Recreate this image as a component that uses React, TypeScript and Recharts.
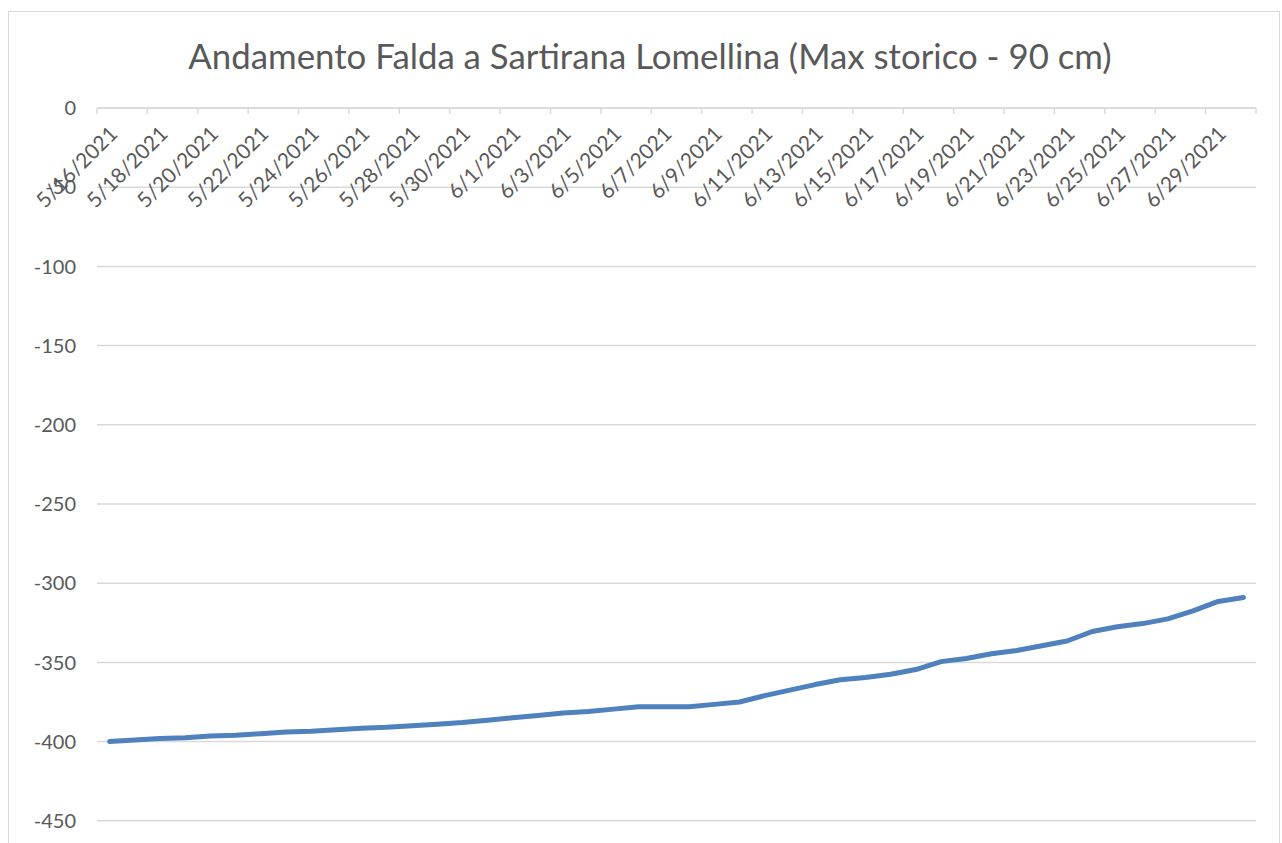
import React from 'react';
import { LineChart, Line, XAxis, YAxis, CartesianGrid } from 'recharts';

const DATES = [
  '5/16/2021', '5/17/2021', '5/18/2021', '5/19/2021', '5/20/2021', '5/21/2021',
  '5/22/2021', '5/23/2021', '5/24/2021', '5/25/2021', '5/26/2021', '5/27/2021',
  '5/28/2021', '5/29/2021', '5/30/2021', '5/31/2021', '6/1/2021', '6/2/2021',
  '6/3/2021', '6/4/2021', '6/5/2021', '6/6/2021', '6/7/2021', '6/8/2021',
  '6/9/2021', '6/10/2021', '6/11/2021', '6/12/2021', '6/13/2021', '6/14/2021',
  '6/15/2021', '6/16/2021', '6/17/2021', '6/18/2021', '6/19/2021', '6/20/2021',
  '6/21/2021', '6/22/2021', '6/23/2021', '6/24/2021', '6/25/2021', '6/26/2021',
  '6/27/2021', '6/28/2021', '6/29/2021', '6/30/2021',
];

// livello falda (cm)
const LEVELS = [
  -400, -399, -398, -397.5, -396.5, -396, -395, -394, -393.5, -392.5, -391.5, -391,
  -390, -389, -388, -386.5, -385, -383.5, -382, -381, -379.5, -378, -378, -378,
  -376.5, -375, -371, -367.5, -364, -361, -359.5, -357.5, -354.5, -349.5, -347.5, -344.5,
  -342.5, -339.5, -336.5, -330.5, -327.5, -325.5, -322.5, -317.5, -311.5, -309,
];

const Y_TICKS = [0, -50, -100, -150, -200, -250, -300, -350, -400, -450];

const TITLE = 'Andamento Falda a Sartirana Lomellina (Max storico - 90 cm)';

const FONT = 'Lato, "Open Sans", sans-serif';
const TEXT_COLOR = '#595959';
const GRID_COLOR = '#d9d9d9';

const data = DATES.map((date, idx) => ({ idx, date, level: LEVELS[idx] }));

// tick marks sit between categories every 2 days, labels on every other category
const xTicks: number[] = [];
for (let i = 0; i < DATES.length; i += 2) {
  xTicks.push(i - 0.5, i);
}
xTicks.push(DATES.length - 0.5);

const DateTick = (props: any) => {
  const { x, y, payload } = props;
  const v = Number(payload.value);
  if (!Number.isInteger(v)) {
    return <line x1={x} y1={y} x2={x} y2={y + 6} stroke={GRID_COLOR} strokeWidth={1.5} />;
  }
  return (
    <g transform={`translate(${x + 4}, ${y + 22}) rotate(-45)`}>
      <text x={0} y={0} dy="0.35em" textAnchor="end" fill={TEXT_COLOR} fontSize={21} fontFamily={FONT}>
        {DATES[v]}
      </text>
    </g>
  );
};

export default function App() {
  return (
    <div style={{ position: 'absolute', left: 0, top: 0, width: 1282, height: 843, overflow: 'hidden', background: '#fff' }}>
      <div
        style={{
          position: 'absolute',
          left: 8,
          top: 11,
          width: 1272,
          height: 920,
          boxSizing: 'border-box',
          border: `1.5px solid ${GRID_COLOR}`,
        }}
      >
        <div
          style={{
            position: 'absolute',
            left: 12,
            right: 0,
            top: 27,
            textAlign: 'center',
            fontFamily: FONT,
            fontSize: 34.8,
            lineHeight: 1,
            color: TEXT_COLOR,
            whiteSpace: 'nowrap',
          }}
        >
          {TITLE}
        </div>
        <LineChart
          width={1269}
          height={917}
          data={data}
          margin={{ top: 95, right: 22, left: 0, bottom: 29 }}
        >
          <CartesianGrid vertical={false} stroke={GRID_COLOR} strokeWidth={1.5} />
          <XAxis
            dataKey="idx"
            type="number"
            orientation="top"
            domain={[-0.5, DATES.length - 0.5]}
            ticks={xTicks}
            interval={0}
            allowDecimals
            height={1}
            tickSize={0}
            tickMargin={0}
            tickLine={false}
            axisLine={{ stroke: GRID_COLOR, strokeWidth: 1.5 }}
            tick={DateTick}
          />
          <YAxis
            type="number"
            domain={[-500, 0]}
            ticks={Y_TICKS}
            interval={0}
            width={88}
            tickSize={0}
            tickMargin={21}
            tickLine={false}
            axisLine={false}
            tick={{ fill: TEXT_COLOR, fontSize: 20, fontFamily: FONT }}
          />
          <Line
            type="linear"
            dataKey="level"
            stroke="#4f81bd"
            strokeWidth={5}
            strokeLinecap="round"
            strokeLinejoin="round"
            dot={false}
            activeDot={false}
            isAnimationActive={false}
          />
        </LineChart>
      </div>
    </div>
  );
}
